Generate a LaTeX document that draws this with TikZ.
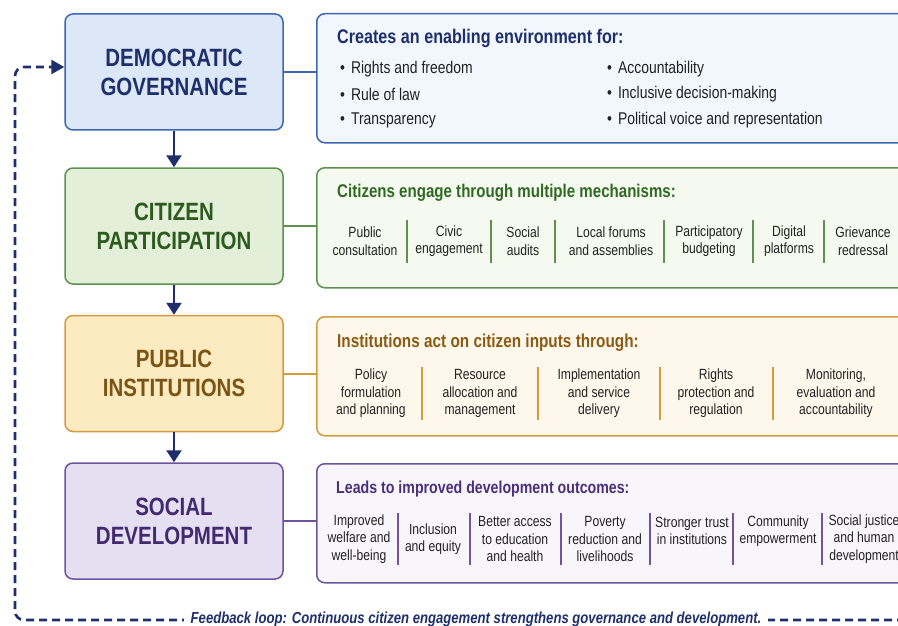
\documentclass[tikz,border=0pt]{standalone}
\usepackage{fontspec}
\setmainfont{Liberation Sans}[FakeStretch=0.82]
\usetikzlibrary{arrows.meta}
\definecolor{navy}{HTML}{1E2F6B}
\definecolor{bluefill}{HTML}{DCE7F7}
\definecolor{blueline}{HTML}{3F66B5}
\definecolor{bluepanel}{HTML}{F2F6FD}
\definecolor{greenfill}{HTML}{E3EFD9}
\definecolor{greenline}{HTML}{5E9150}
\definecolor{greentext}{HTML}{2D5A1E}
\definecolor{greenpanel}{HTML}{F6F9F0}
\definecolor{greenhead}{HTML}{2F6A22}
\definecolor{orangefill}{HTML}{FCEAC0}
\definecolor{orangeline}{HTML}{D49A3E}
\definecolor{orangetext}{HTML}{7A5414}
\definecolor{orangepanel}{HTML}{FEF8EC}
\definecolor{orangehead}{HTML}{8B5A14}
\definecolor{purplefill}{HTML}{E5DFF1}
\definecolor{purpleline}{HTML}{6C559E}
\definecolor{purpletext}{HTML}{432A70}
\definecolor{purplepanel}{HTML}{F8F6FB}
\definecolor{purplehead}{HTML}{4B2F7A}
\definecolor{bodytext}{HTML}{222222}
\begin{document}
\begin{tikzpicture}[x=1pt,y=-1pt,
  mainbox/.style={rectangle, rounded corners=8pt, line width=1.5pt, minimum width=218pt, minimum height=116pt, align=center, font=\fontsize{25}{29}\selectfont\bfseries, inner sep=0pt},
  panel/.style={rectangle, rounded corners=8pt, line width=1.5pt, anchor=north west, minimum width=640pt, inner sep=0pt},
  head/.style={anchor=west, inner sep=0pt},
  bul/.style={anchor=west, font=\fontsize{17}{20}\selectfont, text=bodytext, inner sep=0pt},
  itm/.style={align=center, font=\fontsize{14.8}{17.5}\selectfont, text=bodytext, inner sep=0pt},
  sep/.style={line width=1.2pt},
  link/.style={line width=1.8pt},
  flow/.style={line width=2.5pt, draw=navy, -{Triangle[width=15pt,length=12pt]}},
  fb/.style={line width=2.6pt, draw=navy, dash pattern=on 8pt off 5pt, rounded corners=9pt, -{Triangle[width=14pt,length=13pt]}}
]
\useasboundingbox (0,0) rectangle (898,626);
\clip (0,0) rectangle (898,626);
\fill[white] (0,0) rectangle (898,626);

% left boxes
\node[mainbox, fill=bluefill, draw=blueline, text=navy] (dg) at (174,72) {DEMOCRATIC\\GOVERNANCE};
\node[mainbox, fill=greenfill, draw=greenline, text=greentext] (cp) at (174,226) {CITIZEN\\PARTICIPATION};
\node[mainbox, fill=orangefill, draw=orangeline, text=orangetext] (pi) at (174,373.5) {PUBLIC\\INSTITUTIONS};
\node[mainbox, fill=purplefill, draw=purpleline, text=purpletext] (sd) at (174,521) {SOCIAL\\DEVELOPMENT};

\draw[flow] (dg.south) -- (cp.north);
\draw[flow] (cp.south) -- (pi.north);
\draw[flow] (pi.south) -- (sd.north);

% panels
\node[panel, fill=bluepanel, draw=blueline, minimum height=129pt] (p1) at (316,13) {};
\node[panel, fill=greenpanel, draw=greenline, minimum height=120pt] (p2) at (316,167) {};
\node[panel, fill=orangepanel, draw=orangeline, minimum height=119pt] (p3) at (316,316) {};
\node[panel, fill=purplepanel, draw=purpleline, minimum height=119pt] (p4) at (316,463) {};

\draw[link, draw=blueline] (dg.east) -- (dg.east -| p1.west);
\draw[link, draw=greenline] (cp.east) -- (cp.east -| p2.west);
\draw[link, draw=orangeline] ([yshift=-0.5pt]pi.east) -- ([yshift=-0.5pt]pi.east -| p3.west);
\draw[link, draw=purpleline] (sd.east) -- (sd.east -| p4.west);

% panel 1
\node[head, text=navy, font=\fontsize{19.7}{23}\selectfont\bfseries] (h1) at (337,38) {Creates an enabling environment for:};
\node[bul] (b1) at (340,69) {\textbullet\hspace{6pt}Rights and freedom};
\node[bul] (b2) at (340,94.5) {\textbullet\hspace{6pt}Rule of law};
\node[bul] (b3) at (340,120) {\textbullet\hspace{6pt}Transparency};
\node[bul] (b4) at (607,69) {\textbullet\hspace{6pt}Accountability};
\node[bul] (b5) at (607,94.5) {\textbullet\hspace{6pt}Inclusive decision-making};
\node[bul] (b6) at (607,120) {\textbullet\hspace{6pt}Political voice and representation};

% panel 2
\node[head, text=greenhead, font=\fontsize{18.4}{22}\selectfont\bfseries] (h2) at (337,193) {Citizens engage through multiple mechanisms:};
\node[itm] (c1) at (365,241) {Public\\consultation};
\node[itm] (c2) at (449,241) {Civic\\engagement};
\node[itm] (c3) at (523,241) {Social\\audits};
\node[itm] (c4) at (611,241) {Local forums\\and assemblies};
\node[itm] (c5) at (709,241) {Participatory\\budgeting};
\node[itm] (c6) at (789,241) {Digital\\platforms};
\node[itm] (c7) at (863,241) {Grievance\\redressal};
\foreach \x in {407,491,555,664,753,824} \draw[sep, draw=greenline] (\x,220) -- (\x,263);

% panel 3
\node[head, text=orangehead, font=\fontsize{18.7}{22}\selectfont\bfseries] (h3) at (337,343) {Institutions act on citizen inputs through:};
\node[itm] (i1) at (371,393.5) {Policy\\formulation\\and planning};
\node[itm] (i2) at (480,393.5) {Resource\\allocation and\\management};
\node[itm] (i3) at (599,393.5) {Implementation\\and service\\delivery};
\node[itm] (i4) at (716,393.5) {Rights\\protection and\\regulation};
\node[itm] (i5) at (836,393.5) {Monitoring,\\evaluation and\\accountability};
\foreach \x in {422,538,660,773} \draw[sep, draw=orangeline] (\x,367) -- (\x,420);

% panel 4
\node[head, text=purplehead, font=\fontsize{17.3}{21}\selectfont\bfseries] (h4) at (336,489) {Leads to improved development outcomes:};
\node[itm] (s1) at (359,539) {Improved\\welfare and\\well-being};
\node[itm] (s2) at (433,539) {Inclusion\\and equity};
\node[itm] (s3) at (515,539) {Better access\\to education\\and health};
\node[itm] (s4) at (605,539) {Poverty\\reduction and\\livelihoods};
\node[itm] (s5) at (692,531) {Stronger trust\\in institutions};
\node[itm] (s6) at (778,531) {Community\\empowerment};
\node[itm] (s7) at (864,539) {Social justice\\and human\\development};
\foreach \x in {398,470,561,650,733,822} \draw[sep, draw=purpleline] (\x,513) -- (\x,565);

% feedback loop
\coordinate (fbR) at (905,620);
\coordinate (fbBL) at (15,620);
\coordinate (fbTL) at (15,67);
\draw[fb] (fbR) -- (fbBL) -- (fbTL) -- ([yshift=5pt]dg.west);
\node[fill=white, inner xsep=7pt, inner ysep=2pt, text=navy, font=\fontsize{16}{19}\selectfont\bfseries\itshape] (fbt) at (476,619) {Feedback loop: Continuous citizen engagement strengthens governance and development.};
\end{tikzpicture}
\end{document}
